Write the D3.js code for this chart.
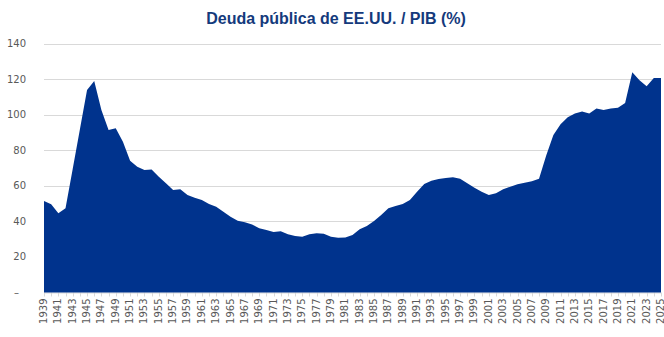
<!DOCTYPE html>
<html>
<head>
<meta charset="utf-8">
<script src="https://cdn.jsdelivr.net/npm/d3@7"></script>
<style>
  html, body { margin: 0; padding: 0; background: #fff; }
  svg { display: block; }
</style>
</head>
<body>
<svg id="chart" width="664" height="337"></svg>
<script>
const title = "Deuda pública de EE.UU. / PIB (%)";
const years = d3.range(1939, 2026);
const debtToGdp = [
  51.4, 49.6, 44.5, 47.3, 69.5, 91.6, 113.8, 118.9, 102.6, 91.4,
  92.3, 84.8, 74.1, 70.7, 68.9, 69.2, 65.1, 61.4, 57.6, 58.0,
  54.8, 53.3, 52.0, 49.8, 48.2, 45.4, 42.6, 40.4, 39.5, 38.3,
  36.1, 35.1, 34.0, 34.4, 32.7, 31.8, 31.4, 32.7, 33.3, 33.1,
  31.4, 30.8, 30.9, 32.3, 35.5, 37.4, 40.2, 43.6, 47.3, 48.6,
  49.8, 52.0, 56.7, 61.0, 62.9, 63.8, 64.4, 64.8, 64.0, 61.4,
  58.9, 56.7, 54.8, 55.8, 58.0, 59.5, 60.8, 61.7, 62.5, 64.0,
  77.0, 88.6, 94.6, 98.5, 100.7, 101.7, 100.7, 103.5, 102.6, 103.4,
  103.9, 106.5, 123.8, 119.3, 116.0, 120.6, 120.6
];
const yTicks = [0, 20, 40, 60, 80, 100, 120, 140];
const xLabelYears = years.filter((y, i) => i % 2 === 0);

const svg = d3.select("#chart");
const plotLeft = 44, plotRight = 661, plotTop = 43.5, plotBottom = 292.5;

const x = d3.scalePoint().domain(years).range([plotLeft, plotRight]);
const y = d3.scaleLinear().domain([0, 140]).range([plotBottom, plotTop]);

// gridlines
svg.append("g").selectAll("line")
  .data(yTicks.filter(d => d > 0))
  .join("line")
  .attr("x1", plotLeft).attr("x2", plotRight)
  .attr("y1", d => Math.round(y(d)) + 0.5).attr("y2", d => Math.round(y(d)) + 0.5)
  .attr("stroke", "#d9d9d9").attr("stroke-width", 1);

// y labels
svg.append("g").selectAll("text")
  .data(yTicks)
  .join("text")
  .attr("x", d => d === 0 ? 19 : 26)
  .attr("y", d => y(d))
  .attr("dy", "0.35em")
  .attr("text-anchor", "end")
  .attr("font-family", "DejaVu Sans, sans-serif")
  .attr("font-size", 10)
  .attr("fill", "#595959")
  .text(d => d === 0 ? "–" : d);

// x tick marks
svg.append("g").selectAll("line")
  .data(years)
  .join("line")
  .attr("x1", d => Math.round(x(d)) + 0.5).attr("x2", d => Math.round(x(d)) + 0.5)
  .attr("y1", plotBottom).attr("y2", plotBottom + 4)
  .attr("stroke", "#d9d9d9").attr("stroke-width", 1);

// axis line
svg.append("line")
  .attr("x1", plotLeft).attr("x2", plotRight)
  .attr("y1", plotBottom + 0.5).attr("y2", plotBottom + 0.5)
  .attr("stroke", "#d9d9d9");

// area
const area = d3.area()
  .x((d, i) => x(years[i]))
  .y0(y(0))
  .y1(d => y(d));
svg.append("path")
  .datum(debtToGdp)
  .attr("d", area)
  .attr("fill", "#00338d");

// x labels
svg.append("g").selectAll("text")
  .data(xLabelYears)
  .join("text")
  .attr("transform", d => `translate(${x(d)},${plotBottom + 6}) rotate(-90)`)
  .attr("dy", "0.3em")
  .attr("text-anchor", "end")
  .attr("font-family", "DejaVu Sans, sans-serif")
  .attr("font-size", 10)
  .attr("fill", "#595959")
  .text(d => d);

// title
svg.append("text")
  .attr("x", 336)
  .attr("y", 24)
  .attr("text-anchor", "middle")
  .attr("font-family", "Liberation Sans, Arial, sans-serif")
  .attr("font-weight", "bold")
  .attr("font-size", 16)
  .attr("fill", "#143a7c")
  .text(title);
</script>
</body>
</html>
